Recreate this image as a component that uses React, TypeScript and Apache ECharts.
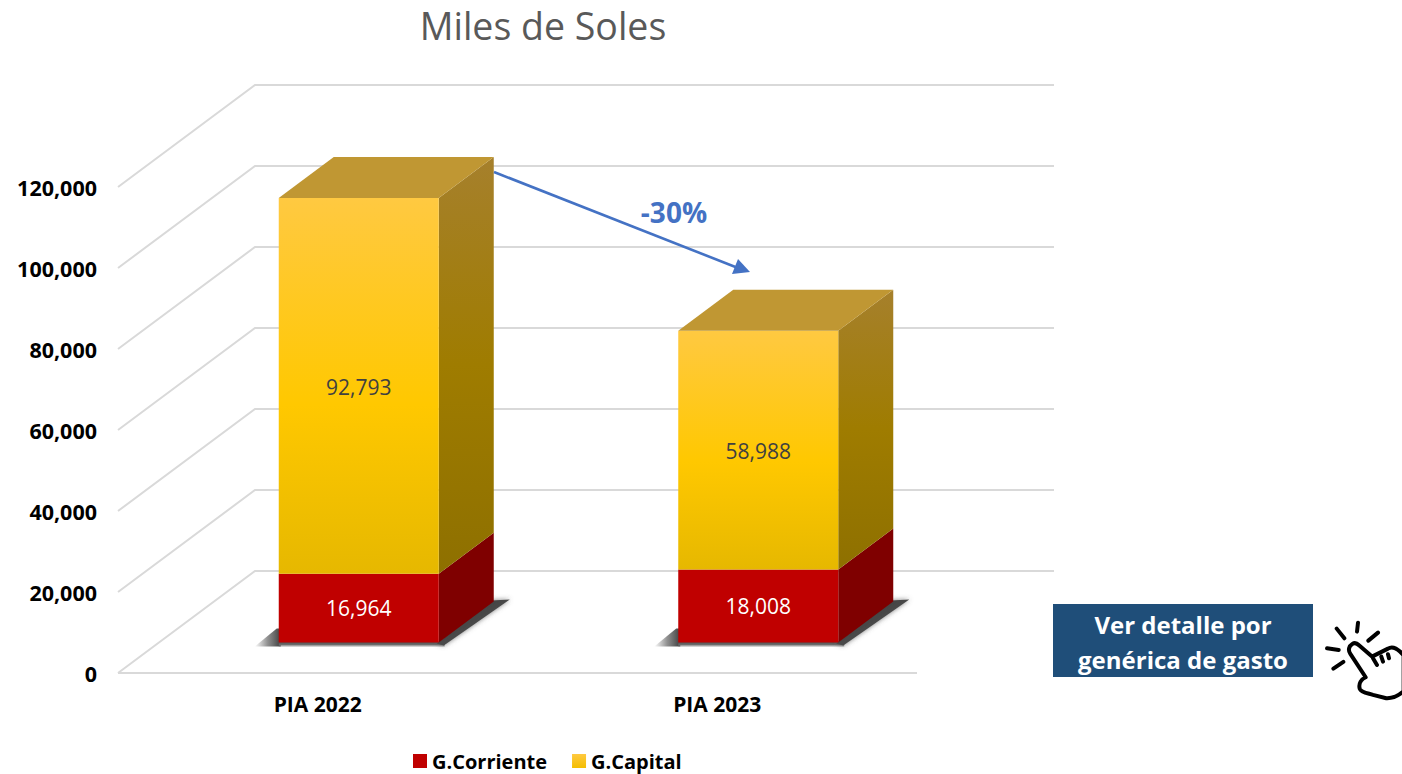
import React, { useEffect, useRef } from "react";
import * as echarts from "echarts";

const categories = ["PIA 2022", "PIA 2023"];
const corriente = [16964, 18008];
const capital = [92793, 58988];
const yTicks = [0, 20000, 40000, 60000, 80000, 100000, 120000];

const FONT = "'Open Sans', sans-serif";
const GRID = { left: 118, top: 187, width: 799, height: 486 };
const WALL = { dx: 137, dy: -102 };
const OFFSET = { dx: 41, dy: -30.5 };
const DEPTH = { dx: 55, dy: -41 };
const BAR_W = 160;

const HAND =
  "M938 162 C928 168 924 180 932 192 L978 262 C965 268 956 280 960 296 C964 308 985 310 1000 315 L1040 325 C1060 326 1078 316 1092 304 L1092 196 C1075 176 1060 166 1045 176 L997 200 L958 166 C952 160 944 158 938 162 Z " +
  "M1000 205 L1012 225 M1025 200 L1030 215 M1045 193 L1048 205 " +
  "M891 116 L914 145 M955 98 L952 125 M1015 128 L986 152 M862 175 L897 180 M881 236 L911 216";
echarts.graphic.registerShape("handIcon", echarts.graphic.extendPath(HAND as any, {}) as any);

const fmt = (v: number) => v.toLocaleString("en-US");
const vGrad = (stops: [number, string][]) =>
  new echarts.graphic.LinearGradient(0, 0, 0, 1, stops.map(([offset, color]) => ({ offset, color })));
const dirGrad = (x2: number, y2: number, stops: [number, string][]) =>
  new echarts.graphic.LinearGradient(0, 0, x2, y2, stops.map(([offset, color]) => ({ offset, color })));

const FRONT_CAPITAL = () => vGrad([[0, "#FFC941"], [0.55, "#FFC800"], [1, "#E6B800"]]);
const SIDE_CAPITAL = () => vGrad([[0, "#A6802C"], [0.5, "#9F7C00"], [1, "#8E7000"]]);
const LEGEND_CAPITAL = () => vGrad([[0, "#FFC941"], [1, "#F4BE00"]]);

function gridItem(params: any, api: any) {
  const v = api.value(0);
  const y = api.coord([0, v])[1];
  const x0 = params.coordSys.x;
  const x1 = x0 + params.coordSys.width;
  const style = { stroke: "#D9D9D9", lineWidth: 2, fill: "none" };
  const children: any[] = [
    {
      type: "polyline",
      shape: { points: [[x0, y], [x0 + WALL.dx, y + WALL.dy], [x1 + WALL.dx, y + WALL.dy]] },
      style,
    },
  ];
  if (v === 0) children.push({ type: "line", shape: { x1: x0, y1: y, x2: x1, y2: y }, style });
  return { type: "group", children };
}

function shadowItem(_params: any, api: any) {
  const c = api.coord([api.value(0), 0]);
  const l = c[0] + OFFSET.dx - BAR_W / 2;
  const b = c[1] + OFFSET.dy;
  const r = l + BAR_W;
  const clear = "rgba(70,70,70,0)";
  return {
    type: "group",
    children: [
      {
        type: "polygon",
        shape: { points: [[l - 24, b + 4], [l - 2, b - 14], [l + 2, b - 14], [l + 2, b + 4]] },
        style: { fill: dirGrad(1, 0, [[0, clear], [0.5, "rgba(70,70,70,0.6)"], [1, "#404040"]]) },
      },
      {
        type: "rect",
        shape: { x: l, y: b - 1, width: BAR_W + 6, height: 6 },
        style: { fill: vGrad([[0, "#4A4A4A"], [0.5, "#6A6A6A"], [1, "rgba(120,120,120,0)"]]) },
      },
      {
        type: "polygon",
        shape: {
          points: [
            [r - 2, b + 1],
            [r + DEPTH.dx - 2, b + DEPTH.dy - 1],
            [r + DEPTH.dx + 16, b + DEPTH.dy - 2],
            [r + 5, b + 3],
          ],
        },
        style: {
          fill: dirGrad(1, 1, [[0, "#333333"], [0.55, "#4A4A4A"], [1, "rgba(110,110,110,0.7)"]]),
          shadowBlur: 5,
          shadowColor: "rgba(90,90,90,0.8)",
        },
      },
    ],
  };
}

function boxItem(kind: "corriente" | "capital") {
  return (_params: any, api: any) => {
    const cat = api.value(0);
    const start = api.value(1);
    const end = api.value(2);
    const p0 = api.coord([cat, start]);
    const p1 = api.coord([cat, end]);
    const l = p0[0] + OFFSET.dx - BAR_W / 2;
    const r = l + BAR_W;
    const b = p0[1] + OFFSET.dy;
    const t = p1[1] + OFFSET.dy;
    const isCap = kind === "capital";
    const children: any[] = [
      {
        type: "polygon",
        shape: { points: [[r, t], [r + DEPTH.dx, t + DEPTH.dy], [r + DEPTH.dx, b + DEPTH.dy], [r, b]] },
        style: { fill: isCap ? SIDE_CAPITAL() : "#7F0000" },
      },
      {
        type: "rect",
        shape: { x: l, y: t, width: BAR_W, height: b - t },
        style: { fill: isCap ? FRONT_CAPITAL() : "#C00000" },
      },
    ];
    if (isCap) {
      children.push({
        type: "polygon",
        shape: { points: [[l, t], [l + DEPTH.dx, t + DEPTH.dy], [r + DEPTH.dx, t + DEPTH.dy], [r, t]] },
        style: { fill: "#C09733" },
      });
    }
    children.push({
      type: "text",
      style: {
        text: fmt(end - start),
        x: (l + r) / 2,
        y: (t + b) / 2 + (isCap ? 1 : 0),
        align: "center",
        verticalAlign: "middle",
        fontFamily: FONT,
        fontSize: 21,
        fill: isCap ? "#404040" : "#FFFFFF",
      },
    });
    return { type: "group", children };
  };
}

export default function App() {
  const ref = useRef<HTMLDivElement>(null);
  useEffect(() => {
    const chart = echarts.init(ref.current!, null, { renderer: "svg" });
    chart.setOption({
      animation: false,
      backgroundColor: "#FFFFFF",
      title: {
        text: "Miles de Soles",
        left: 538,
        top: 1,
        textAlign: "center",
        textStyle: { fontFamily: FONT, fontSize: 37.5, fontWeight: "normal", color: "#595959" },
      },
      grid: { ...GRID },
      legend: {
        left: 408,
        top: 746,
        itemWidth: 14,
        itemHeight: 14,
        itemGap: 25,
        icon: "rect",
        textStyle: { fontFamily: FONT, fontSize: 20, fontWeight: "bold", color: "#000000" },
        data: [
          { name: "G.Corriente", itemStyle: { color: "#C00000" } },
          { name: "G.Capital", itemStyle: { color: LEGEND_CAPITAL() } },
        ],
      },
      xAxis: {
        type: "category",
        data: categories,
        axisLine: { show: false },
        axisTick: { show: false },
        axisLabel: { margin: 20, fontFamily: FONT, fontSize: 21, fontWeight: "bold", color: "#000000" },
      },
      yAxis: {
        type: "value",
        min: 0,
        max: 120000,
        interval: 20000,
        splitLine: { show: false },
        axisLine: { show: false },
        axisTick: { show: false },
        axisLabel: {
          margin: 21,
          fontFamily: FONT,
          fontSize: 21.5,
          fontWeight: "bold",
          color: "#000000",
          formatter: (v: number) => fmt(v),
        },
      },
      series: [
        {
          type: "custom",
          name: "walls",
          silent: true,
          clip: false,
          z: 1,
          encode: { y: 0 },
          renderItem: gridItem,
          data: yTicks.map((v) => [v]),
        },
        {
          type: "custom",
          name: "shadow",
          silent: true,
          clip: false,
          z: 2,
          encode: { x: 0, y: 1 },
          renderItem: shadowItem,
          data: categories.map((_, i) => [i, 0]),
        },
        {
          type: "custom",
          name: "G.Corriente",
          clip: false,
          z: 3,
          itemStyle: { color: "#C00000" },
          encode: { x: 0, y: [1, 2] },
          renderItem: boxItem("corriente"),
          data: corriente.map((v, i) => [i, 0, v]),
        },
        {
          type: "custom",
          name: "G.Capital",
          clip: false,
          z: 4,
          itemStyle: { color: "#FFC800" },
          encode: { x: 0, y: [1, 2] },
          renderItem: boxItem("capital"),
          data: capital.map((v, i) => [i, corriente[i], corriente[i] + v]),
        },
      ],
      graphic: [
        {
          type: "line",
          z: 10,
          shape: { x1: 494, y1: 172, x2: 738, y2: 268 },
          style: { stroke: "#4472C4", lineWidth: 2.6 },
        },
        {
          type: "polygon",
          z: 10,
          shape: { points: [[750, 272], [732, 274], [738, 259]] },
          style: { fill: "#4472C4" },
        },
        {
          type: "text",
          z: 10,
          style: {
            text: "-30%",
            x: 674,
            y: 212,
            align: "center",
            verticalAlign: "middle",
            fontFamily: FONT,
            fontSize: 28,
            fontWeight: "bold",
            fill: "#4472C4",
          },
        },
        {
          type: "rect",
          z: 10,
          shape: { x: 1053, y: 604, width: 260, height: 73 },
          style: { fill: "#1F4E79" },
        },
        {
          type: "text",
          z: 11,
          style: {
            text: "Ver detalle por",
            x: 1183,
            y: 624,
            align: "center",
            verticalAlign: "middle",
            fontFamily: FONT,
            fontSize: 24,
            fontWeight: "bold",
            fill: "#FFFFFF",
          },
        },
        {
          type: "text",
          z: 11,
          style: {
            text: "genérica de gasto",
            x: 1183,
            y: 659,
            align: "center",
            verticalAlign: "middle",
            fontFamily: FONT,
            fontSize: 24,
            fontWeight: "bold",
            fill: "#FFFFFF",
          },
        },
        {
          type: "handIcon",
          z: 11,
          x: 1040,
          y: 590,
          scaleX: 1 / 3,
          scaleY: 1 / 3,
          style: { fill: "none", stroke: "#000000", lineWidth: 12, lineCap: "round", lineJoin: "round" },
        },
      ],
    });
    return () => chart.dispose();
  }, []);
  return (
    <div
      ref={ref}
      style={{ position: "absolute", left: 0, top: 0, width: 1402, height: 774, overflow: "hidden" }}
    />
  );
}
